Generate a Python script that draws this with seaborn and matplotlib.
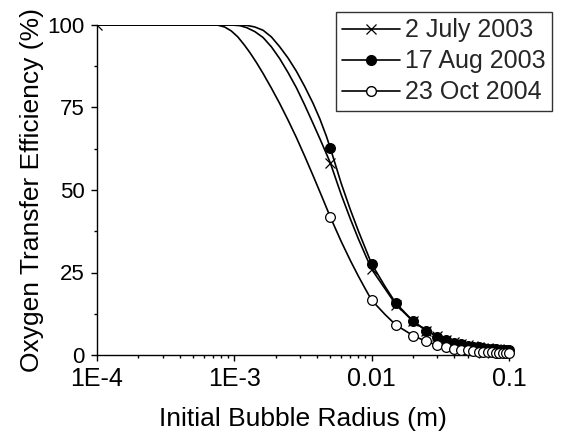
import matplotlib
matplotlib.use("Agg")
import matplotlib.pyplot as plt
from matplotlib.lines import Line2D
from matplotlib.ticker import FixedLocator, NullFormatter
import seaborn as sns
import pandas as pd

# ---- data ----
labels = ["2 July 2003", "17 Aug 2003", "23 Oct 2004"]

# marker positions (m)
r_marks = [0.005, 0.01, 0.015, 0.02, 0.025, 0.03, 0.035, 0.04, 0.045, 0.05,
           0.055, 0.06, 0.065, 0.07, 0.075, 0.08, 0.085, 0.09, 0.095, 0.1]
eff_july_marks = [58.2, 26.0, 15.3, 10.2, 7.4, 5.7, 4.6, 3.8, 3.3, 2.9,
                  2.6, 2.4, 2.2, 2.0, 1.9, 1.8, 1.7, 1.6, 1.55, 1.5]
eff_aug_marks = [62.7, 27.6, 15.7, 10.3, 7.4, 5.6, 4.5, 3.7, 3.2, 2.8,
                 2.5, 2.3, 2.1, 1.9, 1.8, 1.7, 1.6, 1.5, 1.45, 1.4]
eff_oct_marks = [41.8, 16.6, 9.1, 5.9, 4.1, 3.0, 2.4, 1.9, 1.6, 1.4,
                 1.2, 1.05, 0.95, 0.85, 0.78, 0.72, 0.67, 0.62, 0.58, 0.55]

# July series also has a marker at the first radius
r_first = [1e-4]
eff_july_first = [100.0]

# extra curve points (no markers)
r_curve_july = [1e-4, 9.5e-4, 1.1e-3, 1.23e-3, 1.41e-3, 1.62e-3, 1.86e-3, 2.14e-3,
                2.46e-3, 2.83e-3, 3.25e-3, 3.74e-3, 4.19e-3, 4.68e-3,
                6e-3, 7e-3, 8e-3, 9e-3, 1.25e-2]
eff_curve_july = [100, 100, 99.8, 99.2, 98.0, 96.2, 93.4, 89.8,
                  85.6, 81.0, 75.8, 70.2, 65.6, 61.0,
                  48.6, 41.2, 35.2, 30.3, 20.1]
r_curve_aug = [1e-4, 1.1e-3, 1.23e-3, 1.41e-3, 1.62e-3, 1.86e-3, 2.14e-3,
               2.46e-3, 2.83e-3, 3.25e-3, 3.74e-3, 4.19e-3, 4.68e-3,
               6e-3, 7e-3, 8e-3, 9e-3, 1.25e-2]
eff_curve_aug = [100, 100, 99.9, 99.4, 98.4, 96.4, 93.4,
                 90.0, 86.0, 81.4, 76.3, 71.6, 66.3,
                 52.0, 44.0, 37.6, 32.3, 20.8]
r_curve_oct = [1e-4, 7.5e-4, 8.5e-4, 9.5e-4, 1.06e-3, 1.18e-3, 1.3e-3, 1.45e-3,
               1.62e-3, 1.86e-3, 2.14e-3, 2.46e-3, 2.83e-3, 3.25e-3, 3.74e-3, 4.3e-3,
               6e-3, 7e-3, 8e-3, 9e-3, 1.25e-2]
eff_curve_oct = [100, 100, 99.4, 98.2, 96.4, 94.0, 91.6, 88.6,
                 85.3, 80.9, 76.2, 71.2, 65.9, 60.3, 54.4, 48.4,
                 34.4, 28.6, 23.9, 20.0, 12.3]

x_ticks = [1e-4, 1e-3, 1e-2, 1e-1]
x_tick_labels = ["1E-4", "1E-3", "0.01", "0.1"]
y_ticks = [0, 25, 50, 75, 100]

# ---- build tables ----
def curve_df(rc, ec, rm, em, name):
    return pd.DataFrame({"r": list(rc) + list(rm), "eff": list(ec) + list(em), "series": name})

lines_df = pd.concat([
    curve_df(r_curve_july, eff_curve_july, r_marks, eff_july_marks, labels[0]),
    curve_df(r_curve_aug, eff_curve_aug, r_marks, eff_aug_marks, labels[1]),
    curve_df(r_curve_oct, eff_curve_oct, r_marks, eff_oct_marks, labels[2]),
])

sns.set_theme(style="ticks")
plt.rcParams["font.family"] = ["Liberation Sans", "DejaVu Sans"]

fig = plt.figure(figsize=(5.73, 4.38), dpi=100)
ax = fig.add_axes([97 / 573, 1 - 355 / 438, (509 - 97) / 573, (355 - 25) / 438])

lw = 1.2
ms = 7
sns.lineplot(data=lines_df, x="r", y="eff", hue="series", units="series",
             estimator=None, palette=["black"] * 3, linewidth=lw,
             legend=False, ax=ax, sort=True)

ax.plot(r_first + r_marks, eff_july_first + eff_july_marks, linestyle="none",
        marker="x", ms=6.5, mew=0.9, color="black", zorder=4, clip_on=True)
ax.plot(r_marks, eff_aug_marks, linestyle="none", marker="o", ms=ms,
        mfc="black", mec="black", mew=0.9, zorder=5, clip_on=False)
ax.plot(r_marks, eff_oct_marks, linestyle="none", marker="o", ms=ms,
        mfc="white", mec="black", mew=0.9, zorder=5, clip_on=False)

ax.set_xscale("log")
ax.set_xlim(1e-4, 0.1)
ax.set_ylim(0, 100)
ax.set_xticks(x_ticks)
ax.set_xticklabels(x_tick_labels)
ax.xaxis.set_minor_formatter(NullFormatter())
ax.set_yticks(y_ticks)
ax.yaxis.set_minor_locator(FixedLocator([12.5, 37.5, 62.5, 87.5]))

for s in ["top", "right"]:
    ax.spines[s].set_visible(False)
for s in ["left", "bottom"]:
    ax.spines[s].set_color("black")
    ax.spines[s].set_linewidth(1.0)

ax.tick_params(axis="both", which="major", direction="out", length=4, width=1,
               color="black", labelcolor="black")
ax.tick_params(axis="x", which="major", labelsize=18, pad=5)
ax.tick_params(axis="y", which="major", labelsize=16, pad=5)
ax.tick_params(axis="both", which="minor", direction="out", length=2.5, width=1,
               color="black")

ax.set_xlabel("Initial Bubble Radius (m)", fontsize=19, color="black", labelpad=11)
ax.set_ylabel("Oxygen Transfer Efficiency (%)", fontsize=19, color="black", labelpad=2)

handles = [
    Line2D([], [], color="black", lw=lw, marker="x", ms=6.5, mew=0.9),
    Line2D([], [], color="black", lw=lw, marker="o", ms=ms, mfc="black", mec="black"),
    Line2D([], [], color="black", lw=lw, marker="o", ms=ms, mfc="white", mec="black"),
]
leg = fig.legend(handles, labels, loc="upper left",
                 bbox_to_anchor=(336 / 573, 1 - 12 / 438),
                 frameon=True, fancybox=False, fontsize=18,
                 handlelength=2.3, handletextpad=0.2, labelspacing=0.28,
                 borderpad=0.25, borderaxespad=0)
leg.get_frame().set_edgecolor("black")
leg.get_frame().set_linewidth(1.0)

fig.savefig("out.png", dpi=100)
